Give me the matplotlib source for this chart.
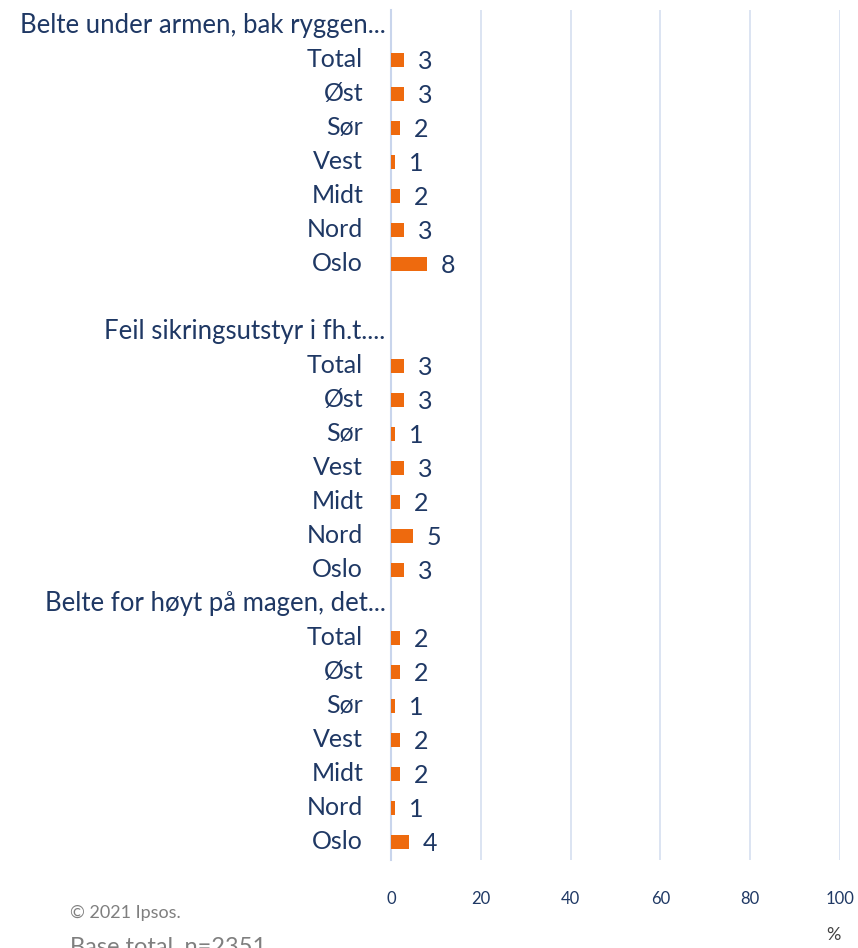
import matplotlib.pyplot as plt

# ---- data ----
headers = ["Belte under armen, bak ryggen...",
           "Feil sikringsutstyr i fh.t....",
           "Belte for høyt på magen, det..."]
regions = ["Total", "Øst", "Sør", "Vest", "Midt", "Nord", "Oslo"]
vals_arm = [3, 3, 2, 1, 2, 3, 8]
vals_utstyr = [3, 3, 1, 3, 2, 5, 3]
vals_mage = [2, 2, 1, 2, 2, 1, 4]
xticks = [0, 20, 40, 60, 80, 100]

navy = "#1F3864"
orange = "#EE6A0E"
grid_col = "#D6DFF0"

plt.rcParams['font.family'] = ['Lato', 'DejaVu Sans']

fig = plt.figure(figsize=(8.58, 9.48), dpi=100)
W, H = 858, 948
ax = fig.add_axes([391 / W, 1 - 860 / H, (840 - 391) / W, (860 - 10) / H])

# build rows: header, 7 regions, (blank after first group)
rows = []
for i, (h, v) in enumerate(zip(headers, [vals_arm, vals_utstyr, vals_mage])):
    rows.append(("header", h, None))
    for r, val in zip(regions, v):
        rows.append(("cat", r, val))
    if i == 0:
        rows.append(("blank", "", None))

n = len(rows)
ax.set_ylim(n - 1 + 0.53, -0.47)
ax.set_xlim(0, 100)

for y, (kind, lab, val) in enumerate(rows):
    if kind == "cat":
        ax.barh(y, val, height=0.42, color=orange, zorder=3)
        ax.text(val + 3.0, y + 0.04, str(val), ha="left", va="center",
                fontsize=18, color=navy, zorder=4)
        ax.text(-6.2, y, lab, ha="right", va="center",
                fontsize=18, color=navy, clip_on=False)
    elif kind == "header":
        ax.text(-1.2, y, lab, ha="right", va="center",
                fontsize=18.5, color=navy, clip_on=False)

ax.set_xticks(xticks)
ax.set_yticks([])
ax.tick_params(axis="x", length=0, labelsize=12, labelcolor=navy, pad=22)
ax.grid(axis="x", color=grid_col, linewidth=1.2, zorder=0)
for s in ["top", "right", "bottom"]:
    ax.spines[s].set_visible(False)
ax.spines["left"].set_color("#C9D5EC")
ax.spines["left"].set_linewidth(1.5)

fig.text(833 / W, 1 - 935 / H, "%", ha="center", va="center",
         fontsize=13, color="#404040")
fig.text(70 / W, 1 - 913 / H, "© 2021 Ipsos.", ha="left", va="center",
         fontsize=13, color="#7F7F7F")
fig.text(70 / W, 1 - 947 / H, "Base total, n=2351", ha="left", va="center",
         fontsize=17, color="#7F7F7F")

fig.savefig("out.png", dpi=100)
